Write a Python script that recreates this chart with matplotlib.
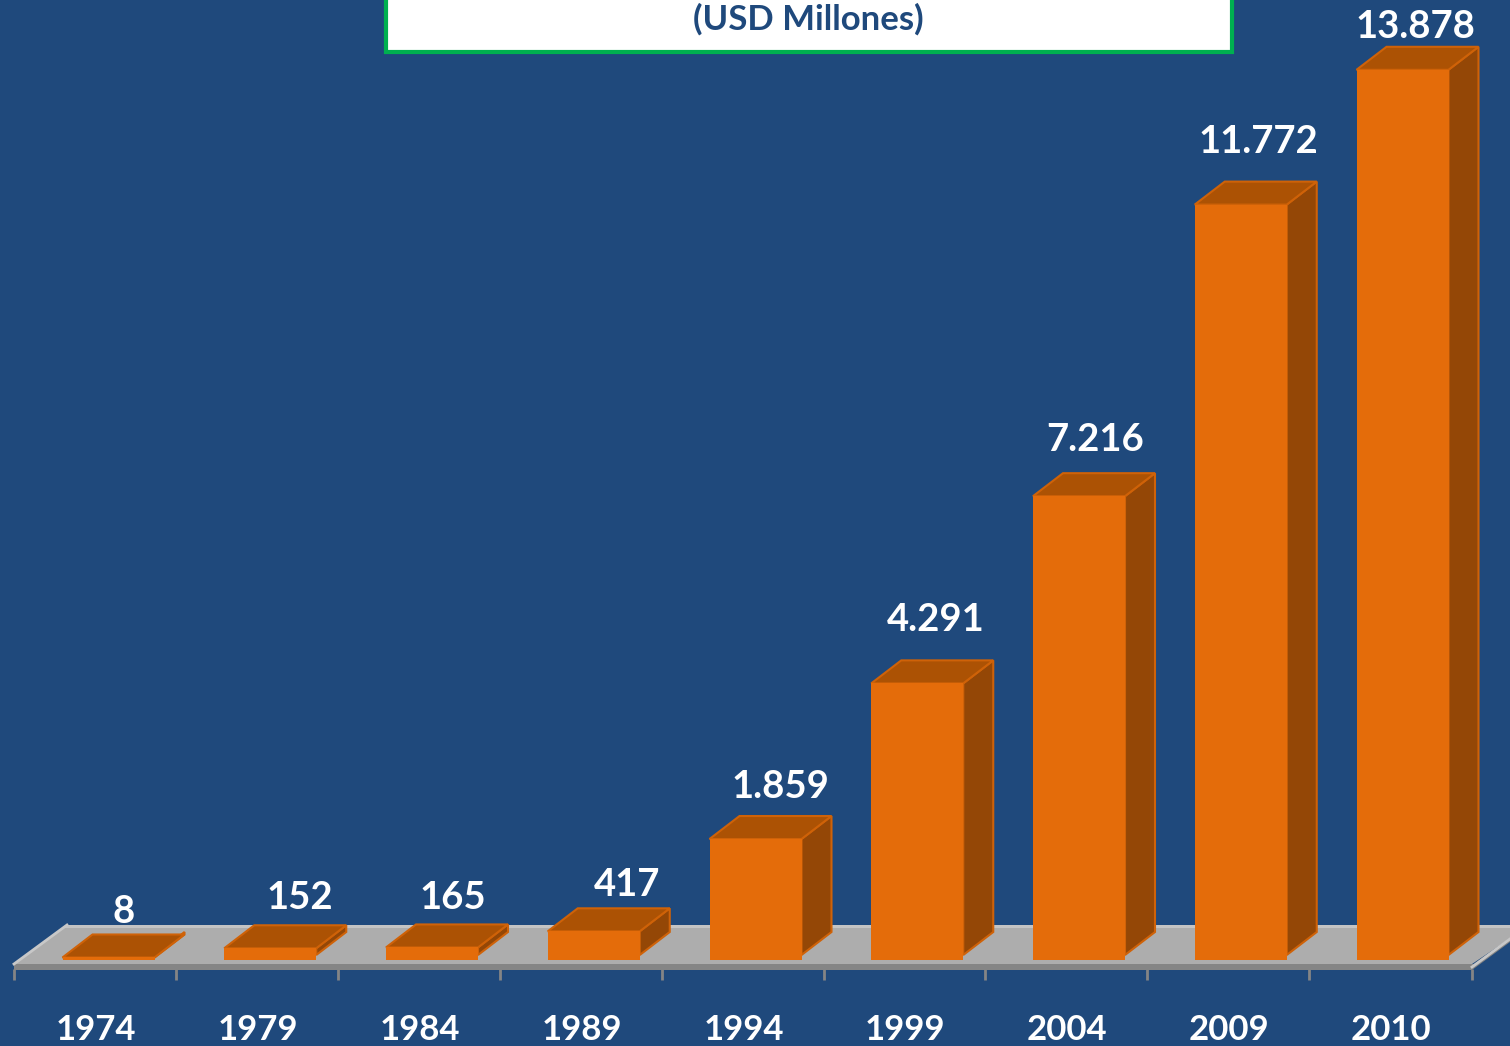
import matplotlib.pyplot as plt
from matplotlib.patches import Polygon, Rectangle

plt.rcParams["font.family"] = ["Lato", "DejaVu Sans"]

years = ["1974", "1979", "1984", "1989", "1994", "1999", "2004", "2009", "2010"]
values = [8, 152, 165, 417, 1859, 4291, 7216, 11772, 13878]
value_labels = ["8", "152", "165", "417", "1.859", "4.291", "7.216", "11.772", "13.878"]

# label nudges from the top of each bar, in pixels
label_dx = [15, 30, 21, 33, 25, 18, 16, 18, 13]
label_dy = [45, 50, 49, 46, 52, 63, 56, 63, 43]

W, H = 1510, 1046
BG = "#1F497C"
FRONT = "#E46C0A"
TOP = "#AC5204"
SIDE = "#944706"
EDGE = "#CF6208"

# 1 px of depth/scale, everything else is in data units
PX_X = 1 / 161.75
PX_Y = 1 / 0.064
bar_w = 92 * PX_X
depth_x = 30 * PX_X
depth_y = 23 * PX_Y
base = -2 * PX_Y

fig = plt.figure(figsize=(W / 100, H / 100), dpi=100, facecolor=BG)

# scene furniture in pixel coordinates
bg = fig.add_axes([0, 0, 1, 1])
bg.set_xlim(0, W)
bg.set_ylim(H, 0)
bg.axis("off")
bg.add_patch(Polygon([(14, 964), (67, 925), (1530, 925), (1472, 964)], fc="#ADADAD", ec="none"))
bg.add_patch(Polygon([(67, 925), (1530, 925), (1526, 928), (64, 928)], fc="#C4C4C4", ec="none"))
bg.plot([14, 67], [964, 925], color="#C8C8C8", lw=2)
bg.plot([1472, 1514], [967, 936], color="#C8C8C8", lw=2)
bg.add_patch(Polygon([(14, 964), (1474, 964), (1510, 938), (1510, 942), (1472, 970), (14, 970)],
                     fc="#858585", ec="none"))
ticks = [14, 176, 338, 500, 662, 824, 985, 1147, 1309, 1472]
for x in ticks:
    bg.plot([x, x], [969, 980], color="#858585", lw=2, solid_capstyle="butt")
for year, a, b in zip(years, ticks[:-1], ticks[1:]):
    bg.text((a + b) / 2 + 0.5, 1030, year, color="white", fontsize=25, fontweight="bold",
            ha="center", va="center")
bg.add_patch(Rectangle((386, -10), 846, 62, fc="white", ec="#00B050", lw=3))
bg.text(808, 19.5, "(USD Millones)", color=BG, fontsize=25, fontweight="bold", ha="center", va="center")

# chart axes in category / value units
ax = fig.add_axes([0, 0, 1, 1])
ax.set_xlim(-108.5 * PX_X, (W - 108.5) * PX_X)
ax.set_ylim(-(H - 958) * PX_Y, 958 * PX_Y)
ax.axis("off")

for i, (v, lab) in enumerate(zip(values, value_labels)):
    x0 = i - bar_w / 2
    x1 = i + bar_w / 2
    ax.add_patch(Polygon([(x1, base + 5 * PX_Y), (x1 + depth_x, base + 5 * PX_Y + depth_y),
                          (x1 + depth_x, v + depth_y), (x1, v)],
                         fc=SIDE, ec=EDGE, lw=1.5))
    ax.add_patch(Polygon([(x0, v), (x0 + depth_x, v + depth_y), (x1 + depth_x, v + depth_y), (x1, v)],
                         fc=TOP, ec=EDGE, lw=1.5))
    ax.bar(i, v - base, bottom=base, width=bar_w, color=FRONT, edgecolor="none")
    ax.annotate(lab, (i, v), xytext=(label_dx[i], label_dy[i]), textcoords="offset pixels",
                color="white", fontsize=27.5, fontweight="bold", ha="center", va="center")

fig.savefig("out.png", dpi=100, facecolor=BG)
